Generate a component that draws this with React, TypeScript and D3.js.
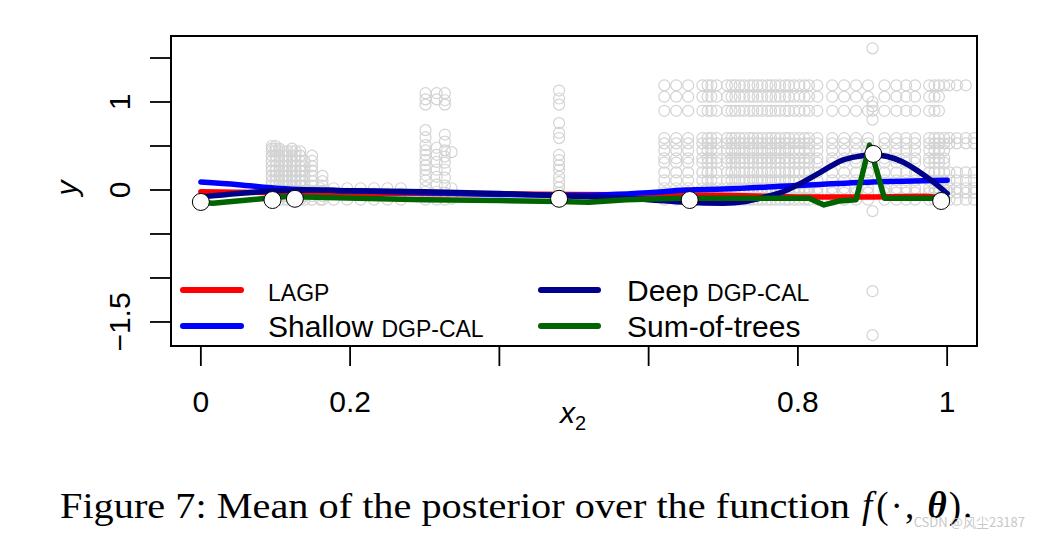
import React from "react";
import * as d3 from "d3";

// ---------- data ----------
const xTicks = [0, 0.2, 0.4, 0.6, 0.8, 1];
const xTickLabels = ["0", "0.2", "", "", "0.8", "1"];
const yTicks = [-1.5, -1, -0.5, 0, 0.5, 1, 1.5];
const yTickLabels = ["\u22121.5", "", "", "0", "", "1", ""];

// grey simulation points: dense design region on the right
const denseColsX = [0.621, 0.637, 0.653, 0.672, 0.679, 0.684, 0.691, 0.705, 0.711, 0.716, 0.722, 0.728, 0.735, 0.74, 0.746, 0.752, 0.759, 0.764, 0.77, 0.776, 0.783, 0.788, 0.795, 0.802, 0.809, 0.815, 0.826, 0.846, 0.862, 0.878, 0.894, 0.916, 0.932, 0.945, 0.957, 0.976, 0.983, 0.989, 0.996, 1.003, 1.013, 1.025, 1.036];
const denseRowsY = [1.19, 1.06, 0.9, 0.59, 0.53, 0.45, 0.36, 0.31, 0.2, 0.11, 0.02, -0.03, -0.11];
const denseRowsMaxX = [1.025, 0.99, 0.99, 1.036, 1.036, 1.0, 1.0, 1.0, 1.036, 1.036, 1.036, 1.036, 1.036];

// left cluster
const leftColsX = [0.095, 0.1, 0.105, 0.111, 0.116, 0.122, 0.127, 0.133, 0.139, 0.149, 0.163];
const leftColsTopY = [0.5, 0.5, 0.48, 0.44, 0.44, 0.47, 0.44, 0.44, 0.35, 0.4, 0.2];
const leftLevelsY = [0.5, 0.47, 0.44, 0.39, 0.33, 0.27, 0.22, 0.16, 0.1, 0.05, -0.01, -0.07, -0.11];

// low row of points
const lowRowX = [0.16, 0.178, 0.196, 0.214, 0.232, 0.25, 0.268];
const lowRowY = [0.02, -0.04, -0.11];

// single columns
const colsX = [0.301, 0.316, 0.327, 0.336, 0.48, 0.9];
const colsY = [
  [1.1, 1.03, 0.97, 0.68, 0.6, 0.51, 0.45, 0.4, 0.34, 0.28, 0.23, 0.17, 0.11, 0.03, -0.02, -0.11],
  [1.1, 1.03, 0.48, 0.4, 0.32, 0.23, 0.15, 0.06, -0.02, -0.11],
  [1.1, 1.02, 0.97, 0.63, 0.55, 0.45, 0.38, 0.31, 0.23, 0.14, 0.05, -0.03, -0.11],
  [0.43, 0.02, -0.1],
  [1.13, 1.04, 0.97, 0.76, 0.65, 0.59, 0.4, 0.34, 0.28, 0.23, 0.15, 0.09, 0.03, -0.03],
  [1.61, 1.0, 0.95, 0.9, 0.8, -0.24, -1.15, -1.65],
];

// posterior mean curves
const lagpX = [0, 0.1, 0.3, 0.5, 0.7, 0.8, 0.9, 0.97, 1];
const lagpY = [-0.02, -0.03, -0.04, -0.05, -0.06, -0.08, -0.08, -0.07, -0.09];

const shallowX = [0, 0.05, 0.1, 0.2, 0.3, 0.4, 0.5, 0.6, 0.65, 0.7, 0.8, 0.9, 1];
const shallowY = [0.09, 0.06, 0.02, -0.01, -0.03, -0.05, -0.06, -0.03, 0, 0.01, 0.05, 0.09, 0.11];

const deepX = [0, 0.05, 0.1, 0.15, 0.2, 0.3, 0.4, 0.5, 0.6, 0.65, 0.7, 0.73, 0.76, 0.78, 0.8, 0.83, 0.86, 0.88, 0.9, 0.92, 0.94, 0.96, 0.98, 1];
const deepY = [-0.08, -0.04, -0.01, 0, -0.01, -0.02, -0.04, -0.07, -0.11, -0.14, -0.15, -0.13, -0.07, -0.02, 0.06, 0.2, 0.34, 0.38, 0.4, 0.38, 0.32, 0.22, 0.1, -0.04];

const sotX = [0, 0.016, 0.106, 0.12, 0.14, 0.24, 0.3, 0.4, 0.48, 0.52, 0.57, 0.64, 0.78, 0.815, 0.835, 0.855, 0.878, 0.896, 0.916, 1];
const sotY = [-0.14, -0.15, -0.08, -0.07, -0.08, -0.1, -0.11, -0.12, -0.13, -0.14, -0.11, -0.095, -0.095, -0.095, -0.17, -0.125, -0.11, 0.51, -0.095, -0.095];

// observed field data
const obsX = [0, 0.096, 0.126, 0.48, 0.655, 0.901, 0.992];
const obsY = [-0.136, -0.114, -0.1, -0.1, -0.114, 0.41, -0.125];

const seriesNames = ["LAGP", "Shallow DGP-CAL", "Deep DGP-CAL", "Sum-of-trees"];
const seriesColors = ["#ff0000", "#0000ff", "#00008b", "#006400"];

// ---------- layout ----------
const W = 1040;
const H = 539;
const box = { left: 171, right: 977, top: 36, bottom: 346 };
const SANS = "'Liberation Sans', Arial, Helvetica, sans-serif";
const SERIF = "'Liberation Serif', 'Times New Roman', serif";

export default function App() {
  const x = d3.scaleLinear().domain([-0.04, 1.04]).range([box.left, box.right]);
  const y = d3.scaleLinear().domain([-1.773, 1.75]).range([box.bottom, box.top]);

  const grey: [number, number][] = [];
  denseRowsY.forEach((ry, i) => {
    denseColsX.forEach((cx) => {
      if (cx <= denseRowsMaxX[i] + 1e-9) grey.push([cx, ry]);
    });
  });
  leftColsX.forEach((cx, i) => {
    leftLevelsY.forEach((ly) => {
      if (ly <= leftColsTopY[i] + 1e-9) grey.push([cx, ly]);
    });
  });
  lowRowX.forEach((lx) => lowRowY.forEach((ly) => grey.push([lx, ly])));
  colsX.forEach((cx, i) => colsY[i].forEach((cy) => grey.push([cx, cy])));

  const line = d3
    .line<[number, number]>()
    .x((d) => x(d[0]))
    .y((d) => y(d[1]));
  const smooth = d3
    .line<[number, number]>()
    .x((d) => x(d[0]))
    .y((d) => y(d[1]))
    .curve(d3.curveMonotoneX);

  const zip = (a: number[], b: number[]) => a.map((v, i) => [v, b[i]] as [number, number]);
  const paths = [
    line(zip(lagpX, lagpY)),
    smooth(zip(shallowX, shallowY)),
    smooth(zip(deepX, deepY)),
    line(zip(sotX, sotY)),
  ];

  const legendRows = [
    { x1: 183, x2: 241, ty: 301, ly: 290, tx: 268 },
    { x1: 183, x2: 241, ty: 337, ly: 326, tx: 268 },
    { x1: 541, x2: 598, ty: 301, ly: 290, tx: 627 },
    { x1: 541, x2: 598, ty: 337, ly: 326, tx: 627 },
  ];

  const renderName = (name: string) => {
    if (name === "LAGP") return <tspan fontSize={23}>LAGP</tspan>;
    if (name.endsWith("DGP-CAL")) {
      const head = name.replace("DGP-CAL", "");
      return (
        <>
          <tspan>{head}</tspan>
          <tspan fontSize={23}>DGP-CAL</tspan>
        </>
      );
    }
    return <tspan>{name}</tspan>;
  };

  return (
    <div style={{ position: "absolute", left: 0, top: 0 }}>
      <svg width={W} height={H} viewBox={`0 0 ${W} ${H}`} style={{ display: "block", background: "#fff" }}>
        <rect x={0} y={0} width={W} height={H} fill="#fff" />
        <defs>
          <clipPath id="plotclip">
            <rect x={box.left} y={box.top} width={box.right - box.left} height={box.bottom - box.top} />
          </clipPath>
        </defs>

        {/* grey points */}
        <g clipPath="url(#plotclip)">
          {grey.map((p, i) => (
            <circle key={i} cx={x(p[0])} cy={y(p[1])} r={5.5} fill="none" stroke="#d3d3d3" strokeWidth={1.2} />
          ))}
        </g>

        {/* curves */}
        <g clipPath="url(#plotclip)">
          {paths.map((d, i) => (
            <path key={i} d={d || ""} fill="none" stroke={seriesColors[i]} strokeWidth={5.5} strokeLinecap="round" strokeLinejoin="round" />
          ))}
        </g>

        {/* observed points */}
        {obsX.map((ox, i) => (
          <circle key={i} cx={x(ox)} cy={y(obsY[i])} r={8.5} fill="#fff" stroke="#000" strokeWidth={1} />
        ))}

        {/* legend */}
        {seriesNames.map((name, i) => {
          const r = legendRows[i];
          return (
            <g key={name}>
              <line x1={r.x1} x2={r.x2} y1={r.ly} y2={r.ly} stroke={seriesColors[i]} strokeWidth={6} strokeLinecap="round" />
              <text x={r.tx} y={r.ty} fontFamily={SANS} fontSize={30} fill="#000">
                {renderName(name)}
              </text>
            </g>
          );
        })}

        {/* box */}
        <rect x={box.left} y={box.top} width={box.right - box.left} height={box.bottom - box.top} fill="none" stroke="#000" strokeWidth={2} />

        {/* x axis */}
        {xTicks.map((t, i) => (
          <g key={"xt" + i}>
            <line x1={x(t)} x2={x(t)} y1={box.bottom} y2={box.bottom + 20} stroke="#000" strokeWidth={1.8} />
            {xTickLabels[i] && (
              <text x={x(t)} y={412} textAnchor="middle" fontFamily={SANS} fontSize={30} fill="#000">
                {xTickLabels[i]}
              </text>
            )}
          </g>
        ))}

        {/* y axis */}
        {yTicks.map((t, i) => (
          <g key={"yt" + i}>
            <line x1={box.left - 21} x2={box.left} y1={y(t)} y2={y(t)} stroke="#000" strokeWidth={1.8} />
            {yTickLabels[i] && (
              <text transform={`translate(130,${y(t)}) rotate(-90)`} textAnchor="middle" fontFamily={SANS} fontSize={30} fill="#000">
                {yTickLabels[i]}
              </text>
            )}
          </g>
        ))}

        {/* axis titles */}
        <text transform={`translate(77,${y(0) - 2}) rotate(-90)`} textAnchor="middle" fontFamily={SANS} fontStyle="italic" fontSize={30} fill="#000">
          y
        </text>
        <text x={560} y={423} fontFamily={SANS} fontSize={30} fill="#000">
          <tspan fontStyle="italic">x</tspan>
          <tspan fontSize={20} dy={7}>2</tspan>
        </text>

        {/* caption */}
        <text x={60} y={518} fontFamily={SERIF} fontSize={36} fill="#000" textLength={790} lengthAdjust="spacingAndGlyphs">
          Figure 7: Mean of the posterior over the function
        </text>
        <text x={862} y={518} fontFamily={SERIF} fontSize={37} fill="#000" letterSpacing={2}>
          <tspan fontStyle="italic">f</tspan>
          <tspan dx={2}>(·, </tspan>
          <tspan fontStyle="italic" fontWeight="bold">θ</tspan>
          <tspan>).</tspan>
        </text>

        {/* watermark */}
        <text x={1025} y={527} textAnchor="end" fontFamily="'Noto Sans CJK SC', 'Noto Sans', sans-serif" fontSize={13} fill="#c8c8c8">
          CSDN @风尘23187
        </text>
      </svg>
    </div>
  );
}
